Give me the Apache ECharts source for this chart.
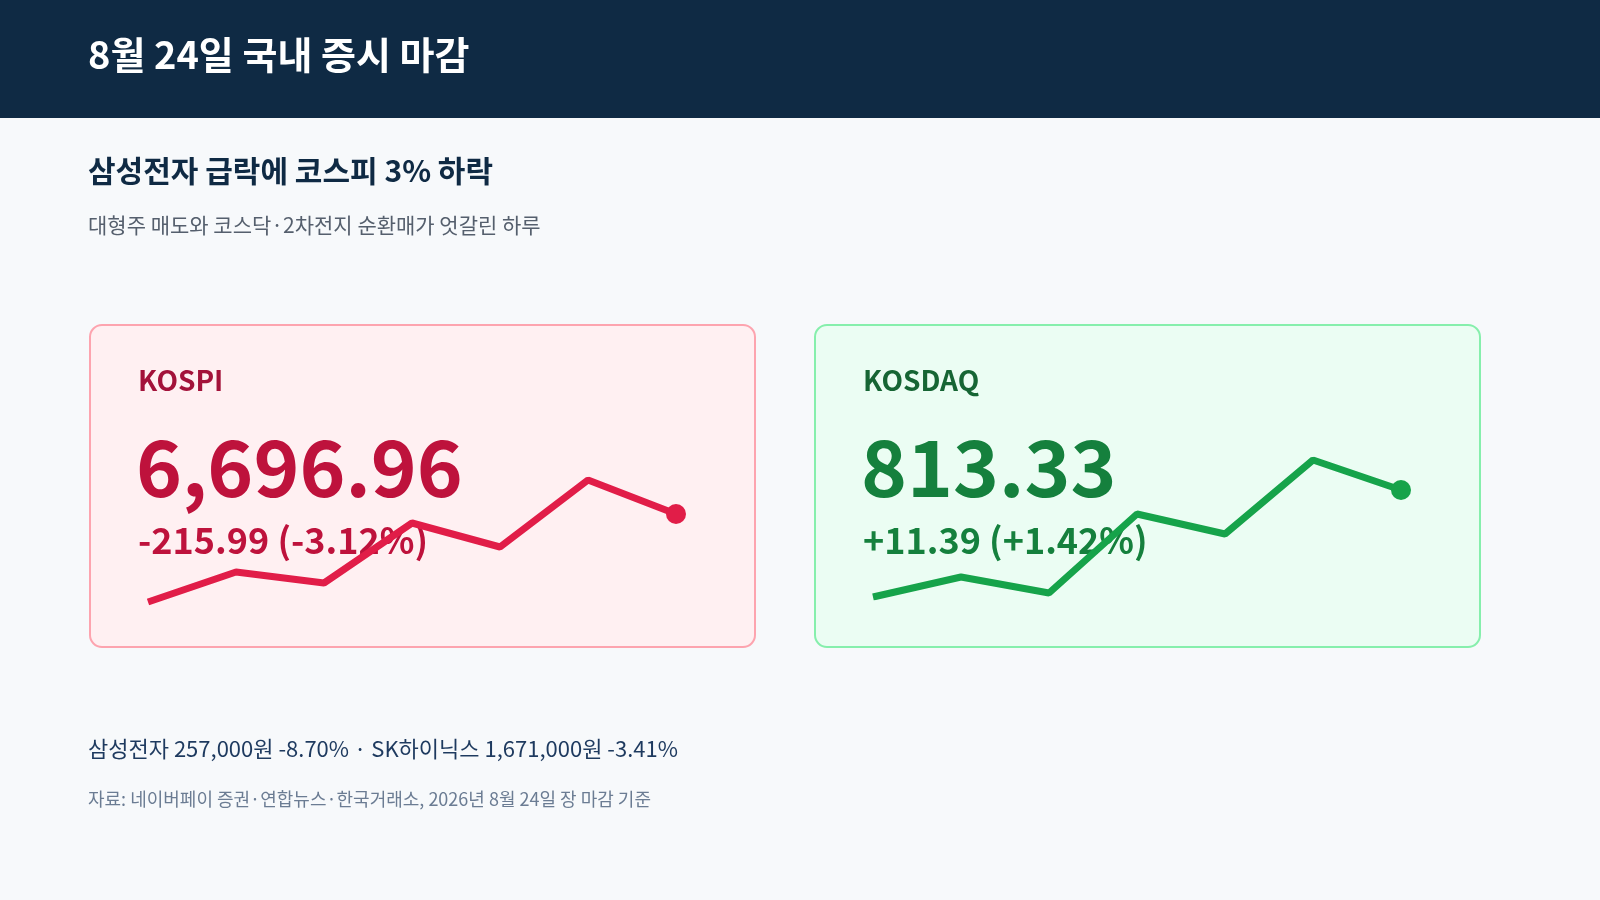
<!DOCTYPE html>
<html><head><meta charset="utf-8">
<script src="https://cdn.jsdelivr.net/npm/echarts@6/dist/echarts.min.js"></script>
<style>html,body{margin:0;padding:0;background:#f7f9fb}#c{width:1600px;height:900px}</style>
</head><body><div id="c"></div>
<script>
const points = ['1','2','3','4','5','6','7'];
const kospiTrend = [0, 30, 19, 79, 55, 122, 88];
const kosdaqTrend = [0, 20, 4, 83, 63, 137, 107];
const kospiClose = '6,696.96', kospiChange = '-215.99 (-3.12%)';
const kosdaqClose = '813.33', kosdaqChange = '+11.39 (+1.42%)';

const F = '"Noto Sans CJK KR", "Liberation Sans", sans-serif';
const chart = echarts.init(document.getElementById('c'));
function txt(x, y, s, size, color, weight) {
  return {type:'text', left:x, top:y, style:{text:s, font:(weight||'normal')+' '+size+'px '+F, fill:color}};
}
function line(data, idx, color) {
  return {type:'line', xAxisIndex:idx, yAxisIndex:idx, data:data, smooth:false, z:5,
    lineStyle:{color:color, width:7}, itemStyle:{color:color},
    symbol:'circle', symbolSize:(v, p) => p.dataIndex === data.length - 1 ? 20 : 0, showSymbol:true, silent:true};
}
chart.setOption({
  animation:false,
  backgroundColor:'#f7f9fb',
  grid:[
    {left:148, right:1600-676, top:480, bottom:900-602},
    {left:873, right:1600-1401, top:460, bottom:900-597}
  ],
  xAxis:[0,1].map(i => ({type:'category', gridIndex:i, data:points, boundaryGap:false, show:false})),
  yAxis:[
    {type:'value', gridIndex:0, min:0, max:122, show:false},
    {type:'value', gridIndex:1, min:0, max:137, show:false}
  ],
  graphic:[
    {type:'rect', left:0, top:0, shape:{width:1600, height:118}, style:{fill:'#0f2a44'}},
    txt(88, 36, '8월 24일 국내 증시 마감', 38, '#ffffff', 'bold'),
    txt(88, 156, '삼성전자 급락에 코스피 3% 하락', 30, '#0f2a44', 'bold'),
    txt(88, 215, '대형주 매도와 코스닥·2차전지 순환매가 엇갈린 하루', 21, '#555f6d'),
    {type:'rect', left:89, top:324, z:1, shape:{width:665, height:322, r:12}, style:{fill:'#fff0f2', stroke:'#fda4af', lineWidth:2}},
    {type:'rect', left:814, top:324, z:1, shape:{width:665, height:322, r:12}, style:{fill:'#ebfdf3', stroke:'#86efac', lineWidth:2}},
    Object.assign(txt(138, 366, 'KOSPI', 28, '#a3123a', 'bold'), {z:3}),
    Object.assign(txt(136, 428, kospiClose, 78, '#be123c', 'bold'), {z:3}),
    Object.assign(txt(138, 522, kospiChange, 36, '#be123c', 'bold'), {z:3}),
    Object.assign(txt(863, 366, 'KOSDAQ', 28, '#166534', 'bold'), {z:3}),
    Object.assign(txt(861, 428, kosdaqClose, 78, '#15803d', 'bold'), {z:3}),
    Object.assign(txt(863, 522, kosdaqChange, 36, '#15803d', 'bold'), {z:3}),
    txt(88, 738, '삼성전자 257,000원 -8.70% · SK하이닉스 1,671,000원 -3.41%', 22, '#1e3a5f'),
    txt(88, 790, '자료: 네이버페이 증권·연합뉴스·한국거래소, 2026년 8월 24일 장 마감 기준', 18, '#6b7c93')
  ],
  series:[line(kospiTrend, 0, '#e11d48'), line(kosdaqTrend, 1, '#16a34a')]
});
</script></body></html>
